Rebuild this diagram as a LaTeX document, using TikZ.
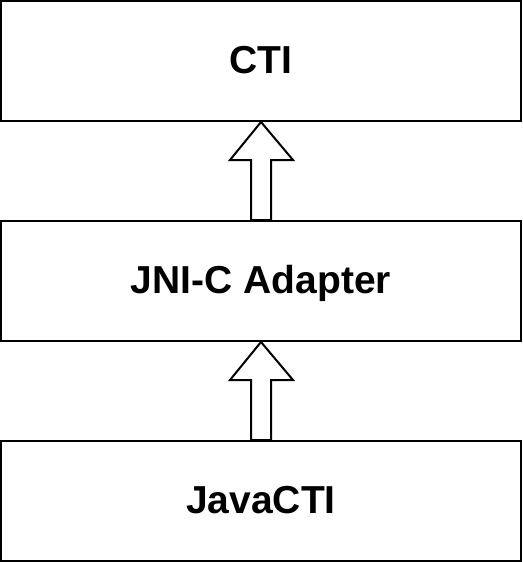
\documentclass[tikz,border=0pt]{standalone}
\usepackage{fontspec}
\setmainfont{Liberation Sans}
\begin{document}
\begin{tikzpicture}[x=1pt,y=-1pt,
  layerbox/.style={draw=black,line width=2pt,fill=white,minimum width=520pt,minimum height=120pt,inner sep=0pt,text height=24pt,text depth=0pt,font=\fontsize{39}{46}\selectfont\bfseries},
  blockarrow/.style={draw=black,line width=2pt,fill=white,line join=miter}]
\useasboundingbox (0,0) rectangle (522,562);
\node[layerbox] (cti) at (261,61) {CTI};
\node[layerbox] (jni) at (261,281) {JNI-C Adapter};
\node[layerbox] (java) at (261,501) {JavaCTI};
\draw[blockarrow] (jni.north) ++(-10,0) -- ++(0,-60) -- ++(-21,0) -- (cti.south) -- ++(32,38) -- ++(-22,0) -- ++(0,60) -- cycle;
\draw[blockarrow] (java.north) ++(-10,0) -- ++(0,-60) -- ++(-21,0) -- (jni.south) -- ++(32,38) -- ++(-22,0) -- ++(0,60) -- cycle;
\end{tikzpicture}
\end{document}
